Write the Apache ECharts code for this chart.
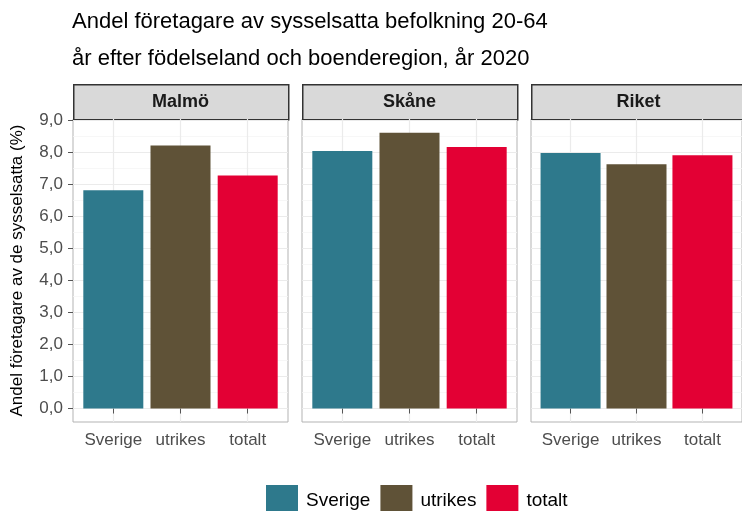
<!DOCTYPE html>
<html>
<head>
<meta charset="utf-8">
<script src="https://cdn.jsdelivr.net/npm/echarts@6/dist/echarts.min.js"></script>
<style>
  html, body { margin: 0; padding: 0; background: #fff; }
  #chart { width: 742px; height: 511px; }
</style>
</head>
<body>
<div id="chart"></div>
<script>
// data
var regions = ['Malmö', 'Skåne', 'Riket'];
var groups = ['Sverige', 'utrikes', 'totalt'];
var sverige = [6.81, 8.03, 7.97];
var utrikes = [8.20, 8.60, 7.62];
var totalt = [7.27, 8.16, 7.90];
var yTicks = [0, 1, 2, 3, 4, 5, 6, 7, 8, 9];
var yMinor = [0.5, 1.5, 2.5, 3.5, 4.5, 5.5, 6.5, 7.5, 8.5];
var xPos = [1, 2, 3];

var colors = ['#2E798C', '#5F5237', '#E30034'];
var values = [sverige, utrikes, totalt];
var font = 'Liberation Sans, Arial, sans-serif';

var chart = echarts.init(document.getElementById('chart'));

// panel layout (ggplot facets)
var panelLeft = [73, 302, 531], panelW = 215, panelTop = 119, panelBottom = 422;
var stripTop = 84, stripH = 35;

var grids = [], xAxes = [], yAxes = [], series = [], graphics = [];

regions.forEach(function (r, i) {
  grids.push({
    left: panelLeft[i], top: panelTop, width: panelW, height: panelBottom - panelTop,
    show: true, backgroundColor: '#fff', borderColor: '#B3B3B3', borderWidth: 1
  });
  xAxes.push({
    type: 'value', gridIndex: i, min: 0.4, max: 3.6,
    axisLine: { show: false },
    axisTick: { show: true, customValues: xPos, length: 5, lineStyle: { color: '#555', width: 1 } },
    axisLabel: {
      customValues: xPos, margin: 10, color: '#4D4D4D', fontSize: 17, fontFamily: font,
      formatter: function (v) { return groups[Math.round(v) - 1]; }
    },
    splitLine: { show: true, lineStyle: { color: '#EBEBEB', width: 1.2 } }
  });
  // major y axis
  yAxes.push({
    type: 'value', gridIndex: i, min: -0.42, max: 9.03,
    name: i === 0 ? 'Andel företagare av de sysselsatta (%)' : '',
    nameLocation: 'middle', nameGap: 47,
    nameTextStyle: { color: '#000', fontSize: 17, fontFamily: font },
    axisLine: { show: false },
    axisTick: { show: i === 0, customValues: yTicks, length: 5, lineStyle: { color: '#555' } },
    axisLabel: {
      show: i === 0, customValues: yTicks, margin: 10, color: '#4D4D4D', fontSize: 17, fontFamily: font,
      formatter: function (v) { return v.toFixed(1).replace('.', ','); }
    },
    splitLine: { show: true, lineStyle: { color: '#EBEBEB', width: 1.2 } }
  });
  // minor grid lines
  yAxes.push({
    type: 'value', gridIndex: i, min: -0.42, max: 9.03,
    axisLine: { show: false },
    axisTick: { show: false, customValues: yMinor },
    axisLabel: { show: false, customValues: yMinor },
    splitLine: { show: true, lineStyle: { color: '#F5F5F5', width: 0.8 } }
  });

  groups.forEach(function (g, j) {
    series.push({
      type: 'bar', name: g, xAxisIndex: i, yAxisIndex: 2 * i,
      barWidth: 60, barGap: '-100%',
      itemStyle: { color: colors[j] },
      data: [[xPos[j], values[j][i]]]
    });
  });

  // strip
  graphics.push({
    type: 'rect', left: panelLeft[i], top: stripTop,
    shape: { width: panelW, height: stripH },
    style: { fill: '#D9D9D9', stroke: '#333', lineWidth: 1.5 }
  });
  graphics.push({
    type: 'text', x: panelLeft[i] + panelW / 2, y: stripTop + stripH / 2 + 1,
    style: { text: r, fill: '#1A1A1A', font: 'bold 18px ' + font, align: 'center', verticalAlign: 'middle' }
  });
});

chart.setOption({
  animation: false,
  backgroundColor: '#fff',
  title: {
    text: 'Andel företagare av sysselsatta befolkning 20-64\når efter födelseland och boenderegion, år 2020',
    left: 67, top: -2,
    textStyle: { color: '#000', fontSize: 22, fontWeight: 'normal', fontFamily: font, lineHeight: 37 }
  },
  legend: {
    data: groups, left: 266, top: 485, padding: 0,
    itemWidth: 32, itemHeight: 32, itemGap: 10,
    icon: 'rect',
    textStyle: { color: '#000', fontSize: 19, fontFamily: font, padding: [0, 0, 0, 3] }
  },
  grid: grids,
  xAxis: xAxes,
  yAxis: yAxes,
  series: series,
  graphic: graphics
});
</script>
</body>
</html>
